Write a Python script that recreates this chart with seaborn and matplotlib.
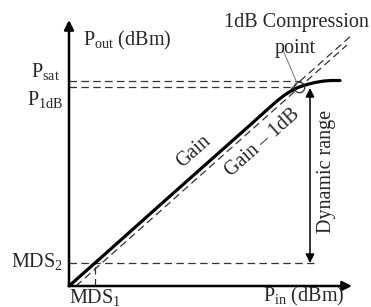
import matplotlib
matplotlib.use("Agg")
import matplotlib.pyplot as plt
import seaborn as sns
import numpy as np

# ---- data (arbitrary dB-like units) ----
gain_pin = [0, 26, 100, 180, 200, 208, 215, 222, 230, 238, 246, 255, 263, 271]
gain_pout = [0, 23, 89, 160, 178, 185, 190.5, 195, 199, 201.5, 203.5, 205, 205.5, 205.5]
extrap_pin = [0, 283]
extrap_pout = [0, 251]
gain1db_pin = [7, 278]
gain1db_pout = [0, 241]
P_sat = 205.5
P_1dB = 199
MDS2 = 23
MDS1 = 26
comp_pin, comp_pout = 230, 199
x_axis_end = 283
y_axis_end = 266
dyn_x = 241

sns.set_style("white")
plt.rcParams['font.family'] = ['Liberation Serif', 'DejaVu Serif']
plt.rcParams['mathtext.fontset'] = 'custom'
plt.rcParams['mathtext.rm'] = 'Liberation Serif'
plt.rcParams['mathtext.it'] = 'Liberation Serif:italic'

fig = plt.figure(figsize=(3.71, 3.07), dpi=100)
ax = fig.add_axes([0, 0, 1, 1])
ax.set_xlim(-69, 302)
ax.set_ylim(-21, 286)
ax.axis('off')

dash_kw = dict(color='#333333', lw=0.9, linestyle=(0, (6, 3.5)))

# reference dashed lines
ax.plot([0, 232], [P_sat, P_sat], **dash_kw)
ax.plot([0, 228], [P_1dB, P_1dB], **dash_kw)
ax.plot([0, dyn_x + 5], [MDS2, MDS2], **dash_kw)
ax.plot([MDS1, MDS1], [0, MDS2], **dash_kw)
ax.plot(extrap_pin, extrap_pout, **dash_kw)
ax.plot(gain1db_pin, gain1db_pout, **dash_kw)

# gain curve
sns.lineplot(x=gain_pin, y=gain_pout, ax=ax, color='black', lw=2.3, sort=False)

# axes arrows
ax.annotate('', xy=(0, y_axis_end), xytext=(0, 0),
            arrowprops=dict(arrowstyle='-|>', lw=1.8, color='black', mutation_scale=14,
                            shrinkA=0, shrinkB=0))
ax.annotate('', xy=(x_axis_end, 0), xytext=(0, 0),
            arrowprops=dict(arrowstyle='-|>', lw=1.8, color='black', mutation_scale=14,
                            shrinkA=0, shrinkB=0))

# dynamic range arrow
ax.annotate('', xy=(dyn_x, P_1dB - 1), xytext=(dyn_x, MDS2),
            arrowprops=dict(arrowstyle='<|-|>', lw=1.1, color='black', mutation_scale=13,
                            shrinkA=0, shrinkB=0))

# compression point circle and leader
ax.plot([comp_pin], [comp_pout], marker='o', ms=7.5, mfc='none', mec='#333333', mew=0.9)
ax.plot([214, comp_pin - 2], [236, comp_pout + 4], color='#777777', lw=0.7)

fs = 14.5
ax.text(14, 246, r'P$_{\mathrm{out}}$ (dBm)', fontsize=fs, ha='left', va='center')
ax.text(-9, 214, r'P$_{\mathrm{sat}}$', fontsize=fs, ha='right', va='center')
ax.text(-6, 187, r'P$_{\mathrm{1dB}}$', fontsize=fs, ha='right', va='center')
ax.text(-6, 25, r'MDS$_{2}$', fontsize=fs, ha='right', va='center')
ax.text(MDS1, -11, r'MDS$_{1}$', fontsize=fs, ha='center', va='center')
ax.text(194, -15.5, r'P$_{\mathrm{in}}$ (dBm)', fontsize=fs, ha='left', va='baseline')
ax.text(258, 115, 'Dynamic range', fontsize=fs, ha='center', va='center', rotation=90)
ax.text(227, 264, '1dB Compression', fontsize=fs, ha='center', va='center')
ax.text(226, 238, 'point', fontsize=fs, ha='center', va='center')
ang = np.degrees(np.arctan(0.89))
ax.text(125, 134, 'Gain', fontsize=fs, ha='center', va='center', rotation=ang)
ax.text(194, 143, 'Gain \u2013 1dB', fontsize=fs, ha='center', va='center', rotation=ang)

fig.savefig('out.png', dpi=100)
